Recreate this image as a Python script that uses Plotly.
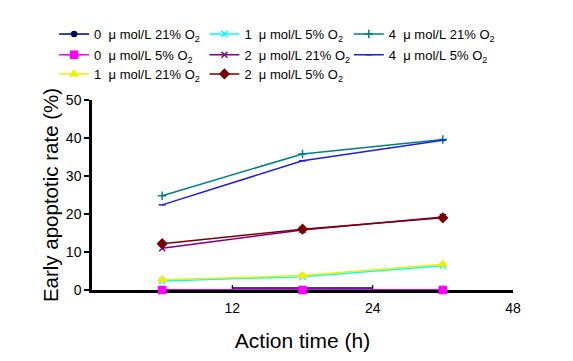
import plotly.graph_objects as go

# Data
time_labels = ["12", "24", "48"]
time_index = [0, 1, 2]          # category positions of the three time points
tick_positions = [0.5, 1.5, 2.5]

s_0_21 = [0.0, 0.0, 0.0]
s_0_5 = [0.0, 0.0, 0.0]
s_1_21 = [2.7, 3.8, 6.8]
s_1_5 = [2.4, 3.5, 6.4]
s_2_21 = [11.0, 15.8, 19.2]
s_2_5 = [12.2, 16.0, 19.0]
s_4_21 = [24.8, 35.8, 39.6]
s_4_5 = [22.4, 34.0, 39.4]

NB = "\u00a0"
def lab(conc, o2):
    return f"{conc}{NB}{NB}μ{NB}mol/L{NB}{o2}%{NB}O<sub>2</sub>"

# (name, values, colour, symbol, size, legend column, legend row)
series = [
    (lab(0, 21), s_0_21, "#000066", "circle", 5, 0, 0),
    (lab(0, 5), s_0_5, "#FF00FF", "square", 7, 0, 1),
    (lab(1, 21), s_1_21, "#F0F000", "triangle-up", 7, 0, 2),
    (lab(1, 5), s_1_5, "#00FFFF", "x-thin-open", 6, 1, 0),
    (lab(2, 21), s_2_21, "#800080", "x-thin-open", 6, 1, 1),
    (lab(2, 5), s_2_5, "#7A0000", "diamond", 7, 1, 2),
    (lab(4, 21), s_4_21, "#008080", "cross-thin-open", 6, 2, 0),
    (lab(4, 5), s_4_5, "#1E1EDC", "line-ew-open", 5, 2, 1),
]

legend_cols = [-0.09, 0.267, 0.61]
legend_rows = [1.347, 1.238, 1.137]

# stacking order (last drawn on top)
draw_order = [0, 3, 2, 4, 5, 6, 7, 1]

fig = go.Figure()
legend_layouts = {}
for i in draw_order:
    name, vals, color, sym, size, col, row = series[i]
    lg = "legend" if i == 0 else f"legend{i + 1}"
    fig.add_trace(go.Scatter(
        x=time_index, y=vals, name=name, mode="lines+markers",
        line=dict(color=color, width=1.5),
        marker=dict(color=color, symbol=sym, size=size,
                    line=dict(color=color, width=1.5)),
        legend=lg, cliponaxis=False,
    ))
    legend_layouts[lg] = dict(
        x=legend_cols[col], y=legend_rows[row],
        xanchor="left", yanchor="middle", orientation="v",
        font=dict(size=13), itemwidth=30, bgcolor="rgba(0,0,0,0)",
    )

# small bracket between the 12 and 24 ticks
fig.add_shape(type="line", xref="x", yref="y", layer="below",
              x0=tick_positions[0], x1=tick_positions[1], y0=0.5, y1=0.5,
              line=dict(color="#000044", width=1.5))
for tp in tick_positions[:2]:
    fig.add_shape(type="line", xref="x", yref="y", layer="below",
                  x0=tp, x1=tp, y0=0, y1=1.3,
                  line=dict(color="#000044", width=1.2))

# page body adds an 8px offset, margins compensate for it
fig.update_layout(
    width=573, height=361,
    margin=dict(l=84, r=68, t=92, b=79, autoexpand=False),
    paper_bgcolor="white", plot_bgcolor="white",
    font=dict(family="Liberation Sans, Arial, sans-serif", color="black"),
    showlegend=True,
    xaxis=dict(
        range=[-0.5, 2.5], tickmode="array", tickvals=tick_positions,
        ticktext=time_labels, ticks="", showgrid=False, zeroline=False,
        showline=True, linecolor="black", linewidth=2.5, layer="below traces",
        tickfont=dict(size=14), ticklabelstandoff=3,
        title=dict(text="Action time (h)", font=dict(size=21), standoff=19),
    ),
    yaxis=dict(
        range=[0, 50], tickvals=[0, 10, 20, 30, 40, 50],
        ticks="outside", ticklen=5, tickwidth=1.5, tickcolor="black",
        showgrid=False, zeroline=False, layer="below traces",
        showline=True, linecolor="black", linewidth=2.5,
        tickfont=dict(size=14),
        title=dict(text="Early apoptotic rate (%)", font=dict(size=20.5), standoff=2),
    ),
)
fig.update_layout(**legend_layouts)

fig.write_html("out.html")
